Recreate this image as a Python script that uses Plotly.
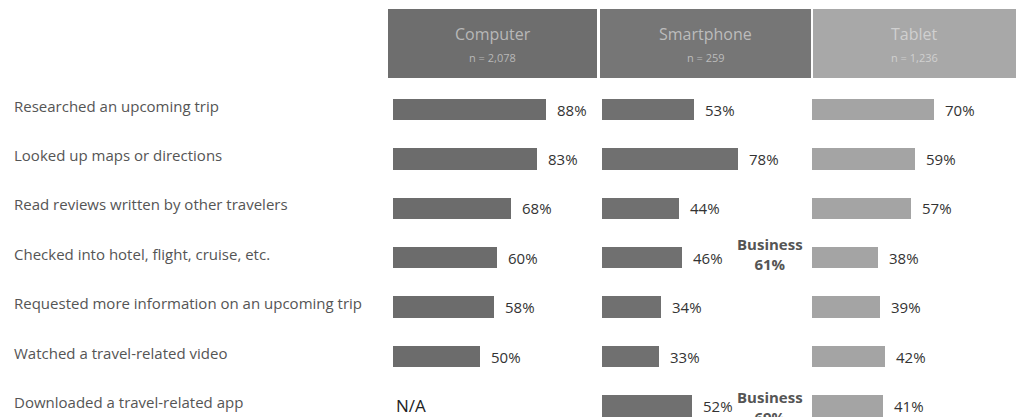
import plotly.graph_objects as go

W, H = 1016, 417

activities = [
    "Researched an upcoming trip",
    "Looked up maps or directions",
    "Read reviews written by other travelers",
    "Checked into hotel, flight, cruise, etc.",
    "Requested more information on an upcoming trip",
    "Watched a travel-related video",
    "Downloaded a travel-related app",
]
computer = [88, 83, 68, 60, 58, 50, None]
smartphone = [53, 78, 44, 46, 34, 33, 52]
tablet = [70, 59, 57, 38, 39, 42, 41]
devices = ["Computer", "Smartphone", "Tablet"]
sample_sizes = ["n = 2,078", "n = 259", "n = 1,236"]
business_notes = {3: "Business<br>61%", 6: "Business<br>69%"}

series = [computer, smartphone, tablet]
bar_colors = ["#6c6c6c", "#707070", "#a4a4a4"]
header_colors = ["#6e6e6e", "#767676", "#a8a8a8"]
header_text = ["#b8b8b8", "#bcbcbc", "#d0d0d0"]

# pixel layout of panels
bar_start_px = [393, 602, 812]
px_per_pct = 1.74
header_px = [(388, 597), (600, 811), (813, 1016)]

row0_px, row_step = 109.5, 49.4
y_top = -row0_px / row_step
y_bot = (H - row0_px) / row_step

fig = go.Figure()
axes = ["x", "x2", "x3"]
for i, vals in enumerate(series):
    xs = [v if v is not None else 0 for v in vals]
    fig.add_trace(go.Bar(
        x=xs, y=list(range(len(activities))), orientation="h",
        xaxis=axes[i], yaxis="y",
        marker=dict(color=bar_colors[i], line=dict(width=0)),
        width=0.43, showlegend=False, hoverinfo="skip",
    ))

layout = dict(
    width=W, height=H,
    margin=dict(l=0, r=0, t=0, b=0),
    plot_bgcolor="white", paper_bgcolor="white",
    font=dict(family="Open Sans", color="#555"),
    bargap=0,
    yaxis=dict(range=[y_bot, y_top], domain=[0, 1], visible=False, fixedrange=True),
)
for i in range(3):
    d0 = bar_start_px[i] / W
    d1 = (bar_start_px[i] + 100 * px_per_pct) / W
    key = "xaxis" if i == 0 else f"xaxis{i+1}"
    layout[key] = dict(domain=[d0, d1], range=[0, 100], visible=False,
                       anchor="y", fixedrange=True)
fig.update_layout(**layout)

shapes = []
annotations = []
for i in range(3):
    x0, x1 = header_px[i]
    shapes.append(dict(type="rect", xref="paper", yref="paper",
                       x0=x0 / W, x1=x1 / W, y0=1 - 78 / H, y1=1 - 9 / H,
                       fillcolor=header_colors[i], line=dict(width=0), layer="below"))
    cx = (x0 + x1) / 2 / W
    annotations.append(dict(xref="paper", yref="paper", x=cx, y=1 - 34 / H,
                            xanchor="center", yanchor="middle",
                            text=devices[i], showarrow=False,
                            font=dict(size=16, color=header_text[i])))
    annotations.append(dict(xref="paper", yref="paper", x=cx, y=1 - 57 / H,
                            xanchor="center", yanchor="middle",
                            text=sample_sizes[i], showarrow=False,
                            font=dict(size=11, color=header_text[i])))

for r, label in enumerate(activities):
    annotations.append(dict(xref="paper", yref="y", x=12 / W, y=r, yshift=4,
                            xanchor="left", text=label, showarrow=False,
                            font=dict(size=15, color="#555")))

for i, vals in enumerate(series):
    for r, v in enumerate(vals):
        if v is None:
            annotations.append(dict(xref=axes[i], yref="y", x=0, y=r, xanchor="left",
                                    xshift=1, text="N/A", showarrow=False,
                                    font=dict(size=17, color="#222")))
        else:
            annotations.append(dict(xref=axes[i], yref="y", x=v, y=r, xanchor="left",
                                    xshift=9, text=f"{v}%", showarrow=False,
                                    font=dict(size=15, color="#333")))

for r, txt in business_notes.items():
    annotations.append(dict(xref="paper", yref="y", x=770 / W, y=r,
                            xanchor="center", yanchor="middle",
                            yshift=4 if r == 3 else -1, text=f"<b>{txt}</b>",
                            showarrow=False, font=dict(size=15, color="#555")))

fig.update_layout(shapes=shapes, annotations=annotations)
fig.write_html("out.html")
